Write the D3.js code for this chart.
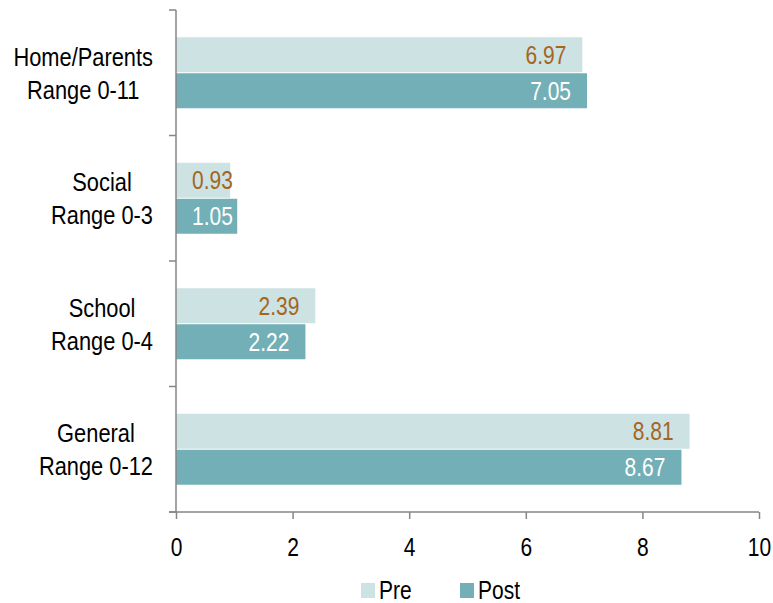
<!DOCTYPE html>
<html><head><meta charset="utf-8">
<script src="https://cdn.jsdelivr.net/npm/d3@7"></script>
<style>body{margin:0;background:#fff}svg{display:block}text{font-family:"Liberation Sans",Arial,sans-serif}</style>
</head><body><svg id="c" width="773" height="603"></svg>
<script>
const categories = [["Home/Parents","Range 0-11"],["Social","Range 0-3"],["School","Range 0-4"],["General","Range 0-12"]];
const preValues = [6.97, 0.93, 2.39, 8.81];
const postValues = [7.05, 1.05, 2.22, 8.67];
const seriesNames = ["Pre","Post"];
const xTicks = [0,2,4,6,8,10];

(function(){
const svg = d3.select("#c");
const mLeft = 176, mRight = 759, mTop = 10, mBottom = 512;
const SX = 0.84, fs = 25;
const x = d3.scaleLinear().domain([0,10]).range([mLeft,mRight]);
const y = d3.scaleBand().domain(d3.range(categories.length)).range([mTop,mBottom]).paddingInner(0).paddingOuter(0);
const inner = d3.scaleBand().domain([0,1]).range([0,y.bandwidth()]).paddingInner(0.028).paddingOuter(0.757);
const colors = ["#cde2e3","#72afb6"];
const labelColors = ["#a4661f","#ffffff"];

function txt(parent, tx, ty, s, anchor, fill, size){
  return parent.append("text").attr("transform",`translate(${tx},${ty}) scale(${SX},1)`)
    .attr("dy","0.36em").attr("text-anchor",anchor).attr("font-size",size||fs).attr("fill",fill).text(s);
}

const series = [preValues, postValues];
series.forEach((vals,s)=>{
  svg.append("g").selectAll("rect").data(vals).join("rect")
    .attr("x", x(0)).attr("y",(d,i)=>y(i)+inner(s))
    .attr("width", d=>x(d)-x(0)).attr("height", inner.bandwidth())
    .attr("fill", colors[s]);
  const g = svg.append("g");
  vals.forEach((d,i)=>{
    const cy = y(i)+inner(s)+inner.bandwidth()/2;
    const t = txt(g, 0, cy, d.toFixed(2), "start", labelColors[s]);
    const w = t.node().getComputedTextLength()*SX;
    const tx = Math.max(x(d)-16-w, mLeft+16);
    t.attr("transform",`translate(${tx},${cy}) scale(${SX},1)`);
  });
});

const yAxis = svg.append("g");
yAxis.append("line").attr("x1",mLeft).attr("x2",mLeft).attr("y1",mTop).attr("y2",mBottom).attr("stroke","#868686").attr("stroke-width",1.5);
yAxis.selectAll("line.t").data(d3.range(categories.length+1)).join("line").attr("class","t")
  .attr("x1",mLeft-7).attr("x2",mLeft).attr("y1",i=>mTop+i*y.step()).attr("y2",i=>mTop+i*y.step())
  .attr("stroke","#868686").attr("stroke-width",1.5);

categories.forEach((lines,i)=>{
  const g = svg.append("g");
  const cy = y(i)+y.bandwidth()/2;
  const texts = lines.map((t,k)=>txt(g, 0, cy+(k-0.5)*33, t, "middle", "#000", 26));
  const w = d3.max(texts,t=>t.node().getComputedTextLength())*SX;
  texts.forEach((t,k)=>t.attr("transform",`translate(${153-w/2},${cy+(k-0.5)*33}) scale(${SX},1)`));
});

const xAxis = svg.append("g").attr("transform",`translate(0,${mBottom})`)
  .call(d3.axisBottom(x).tickValues(xTicks).tickSize(7).tickSizeOuter(0).tickFormat(d3.format("d")));
xAxis.attr("font-family",null).attr("font-size",null);
xAxis.select(".domain").attr("stroke","#868686").attr("stroke-width",1.5).attr("d",`M${mLeft-7},0H${mRight}`);
xAxis.selectAll(".tick line").attr("stroke","#868686").attr("stroke-width",1.5);
xAxis.selectAll(".tick text").attr("font-size",fs).attr("fill","#000").attr("y",null).attr("dy","0.36em")
  .attr("transform",`translate(0,35) scale(${SX},1)`);

const leg = svg.append("g");
const legItems = [{n:seriesNames[0],x:361,c:colors[0]},{n:seriesNames[1],x:460,c:colors[1]}];
legItems.forEach(it=>{
  leg.append("rect").attr("x",it.x).attr("y",583).attr("width",14).attr("height",15).attr("fill",it.c);
  txt(leg, it.x+18, 589.5, it.n, "start", "#000");
});
})();
</script></body></html>
